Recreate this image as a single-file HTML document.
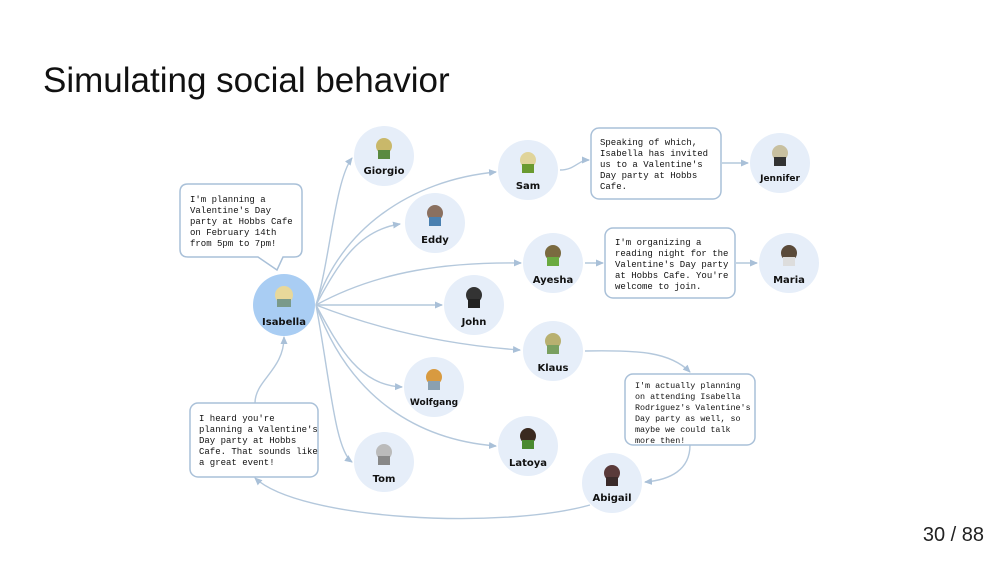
<!DOCTYPE html>
<html><head><meta charset="utf-8"><style>
body{margin:0;background:#fff;width:1000px;height:563px;overflow:hidden;font-family:"Liberation Sans",sans-serif}
</style></head><body>
<svg width="1000" height="563" xmlns="http://www.w3.org/2000/svg">
<defs><marker id="a" markerWidth="8" markerHeight="8" refX="7" refY="4" orient="auto" markerUnits="userSpaceOnUse"><path d="M0,0.5 L8,4 L0,7.5 z" fill="#a9c0d8"/></marker></defs>
<text x="43" y="92" font-size="35" fill="#111" font-family="Liberation Sans,sans-serif">Simulating social behavior</text>
<text x="984" y="541" font-size="20" fill="#222" text-anchor="end" font-family="Liberation Sans,sans-serif">30 / 88</text>
<g fill="none" stroke="#b4c8dc" stroke-width="1.4" marker-end="url(#a)">
<path d="M316,305 C330,260 335,180 352,158"/>
<path d="M316,305 C340,230 410,180 496,172"/>
<path d="M316,305 C340,260 360,230 400,224"/>
<path d="M316,305 C380,270 450,262 521,263"/>
<path d="M316,305 L442,305"/>
<path d="M316,305 C380,330 450,345 520,350"/>
<path d="M316,305 C340,350 360,385 402,387"/>
<path d="M316,305 C330,380 335,450 352,462"/>
<path d="M316,305 C350,400 420,440 496,446"/>
<path d="M560,170 C575,170 578,160 589,160"/>
<path d="M722,163 L748,163"/>
<path d="M585,263 L603,263"/>
<path d="M736,263 L757,263"/>
<path d="M585,351 C640,350 670,352 690,372"/>
<path d="M690,445 C690,470 670,480 645,482"/>
<path d="M590,505 C500,530 300,520 255,478"/>
<path d="M255,403 C255,380 284,370 284,337"/>
</g>
<g fill="#e6eef9">
<circle cx="384" cy="156" r="30"/><circle cx="528" cy="170" r="30"/><circle cx="435" cy="223" r="30"/>
<circle cx="553" cy="263" r="30"/><circle cx="474" cy="305" r="30"/><circle cx="553" cy="351" r="30"/>
<circle cx="434" cy="387" r="30"/><circle cx="384" cy="462" r="30"/><circle cx="528" cy="446" r="30"/>
<circle cx="612" cy="483" r="30"/><circle cx="780" cy="163" r="30"/><circle cx="789" cy="263" r="30"/>
</g>
<circle cx="284" cy="305" r="31" fill="#a9cdf3"/>
<g>
<g transform="translate(284,295)"><circle r="9" fill="#e8d89a"/><rect x="-7" y="4" width="14" height="8" fill="#7a9a8a"/></g>
<g transform="translate(384,146)"><circle r="8" fill="#c9b86a"/><rect x="-6" y="4" width="12" height="9" fill="#5a8a40"/></g>
<g transform="translate(528,160)"><circle r="8" fill="#e0d49a"/><rect x="-6" y="4" width="12" height="9" fill="#6a9a30"/></g>
<g transform="translate(435,213)"><circle r="8" fill="#8a7060"/><rect x="-6" y="4" width="12" height="9" fill="#4a80b0"/></g>
<g transform="translate(553,253)"><circle r="8" fill="#7a6a40"/><rect x="-6" y="4" width="12" height="9" fill="#6aaa40"/></g>
<g transform="translate(474,295)"><circle r="8" fill="#333"/><rect x="-6" y="4" width="12" height="9" fill="#222"/></g>
<g transform="translate(553,341)"><circle r="8" fill="#b8b070"/><rect x="-6" y="4" width="12" height="9" fill="#7aa060"/></g>
<g transform="translate(434,377)"><circle r="8" fill="#d89a40"/><rect x="-6" y="4" width="12" height="9" fill="#8aa0b0"/></g>
<g transform="translate(384,452)"><circle r="8" fill="#bbb"/><rect x="-6" y="4" width="12" height="9" fill="#888"/></g>
<g transform="translate(528,436)"><circle r="8" fill="#3a2a20"/><rect x="-6" y="4" width="12" height="9" fill="#4a8a30"/></g>
<g transform="translate(612,473)"><circle r="8" fill="#5a3a3a"/><rect x="-6" y="4" width="12" height="9" fill="#3a2a2a"/></g>
<g transform="translate(780,153)"><circle r="8" fill="#c8c0a0"/><rect x="-6" y="4" width="12" height="9" fill="#333"/></g>
<g transform="translate(789,253)"><circle r="8" fill="#5a4a3a"/><rect x="-6" y="4" width="12" height="9" fill="#ddd"/></g>
</g>
<g font-size="10" font-weight="bold" fill="#111" text-anchor="middle" font-family="DejaVu Sans,sans-serif">
<text x="284" y="325">Isabella</text><text x="384" y="174">Giorgio</text><text x="528" y="189">Sam</text>
<text x="435" y="243">Eddy</text><text x="553" y="283">Ayesha</text><text x="474" y="325">John</text>
<text x="553" y="371">Klaus</text><text x="434" y="405" font-size="9">Wolfgang</text><text x="384" y="482">Tom</text>
<text x="528" y="466">Latoya</text><text x="612" y="501">Abigail</text><text x="780" y="181" font-size="9">Jennifer</text>
<text x="789" y="283">Maria</text>
</g>
<g fill="#fff" stroke="#a9c0d8" stroke-width="1.5">
<path d="M188,184 H294 Q302,184 302,192 V249 Q302,257 294,257 H283 L277,270 L258,257 H188 Q180,257 180,249 V192 Q180,184 188,184 Z"/>
<rect x="591" y="128" width="130" height="71" rx="8"/>
<rect x="605" y="228" width="130" height="70" rx="8"/>
<rect x="625" y="374" width="130" height="71" rx="8"/>
<rect x="190" y="403" width="128" height="74" rx="8"/>
</g>
<g font-size="9" fill="#111" font-family="Liberation Mono,monospace">
<text x="190" y="202">I'm planning a</text><text x="190" y="213">Valentine's Day</text><text x="190" y="224">party at Hobbs Cafe</text><text x="190" y="235">on February 14th</text><text x="190" y="246">from 5pm to 7pm!</text>
<text x="600" y="145">Speaking of which,</text><text x="600" y="156">Isabella has invited</text><text x="600" y="167">us to a Valentine's</text><text x="600" y="178">Day party at Hobbs</text><text x="600" y="189">Cafe.</text>
<text x="615" y="245">I'm organizing a</text><text x="615" y="256">reading night for the</text><text x="615" y="267">Valentine's Day party</text><text x="615" y="278">at Hobbs Cafe. You're</text><text x="615" y="289">welcome to join.</text>
<g font-size="8.4"><text x="635" y="388">I'm actually planning</text><text x="635" y="399">on attending Isabella</text><text x="635" y="410">Rodriguez's Valentine's</text><text x="635" y="421">Day party as well, so</text><text x="635" y="432">maybe we could talk</text><text x="635" y="443">more then!</text></g>
<text x="199" y="421">I heard you're</text><text x="199" y="432">planning a Valentine's</text><text x="199" y="443">Day party at Hobbs</text><text x="199" y="454">Cafe. That sounds like</text><text x="199" y="465">a great event!</text>
</g>
</svg>
</body></html>
